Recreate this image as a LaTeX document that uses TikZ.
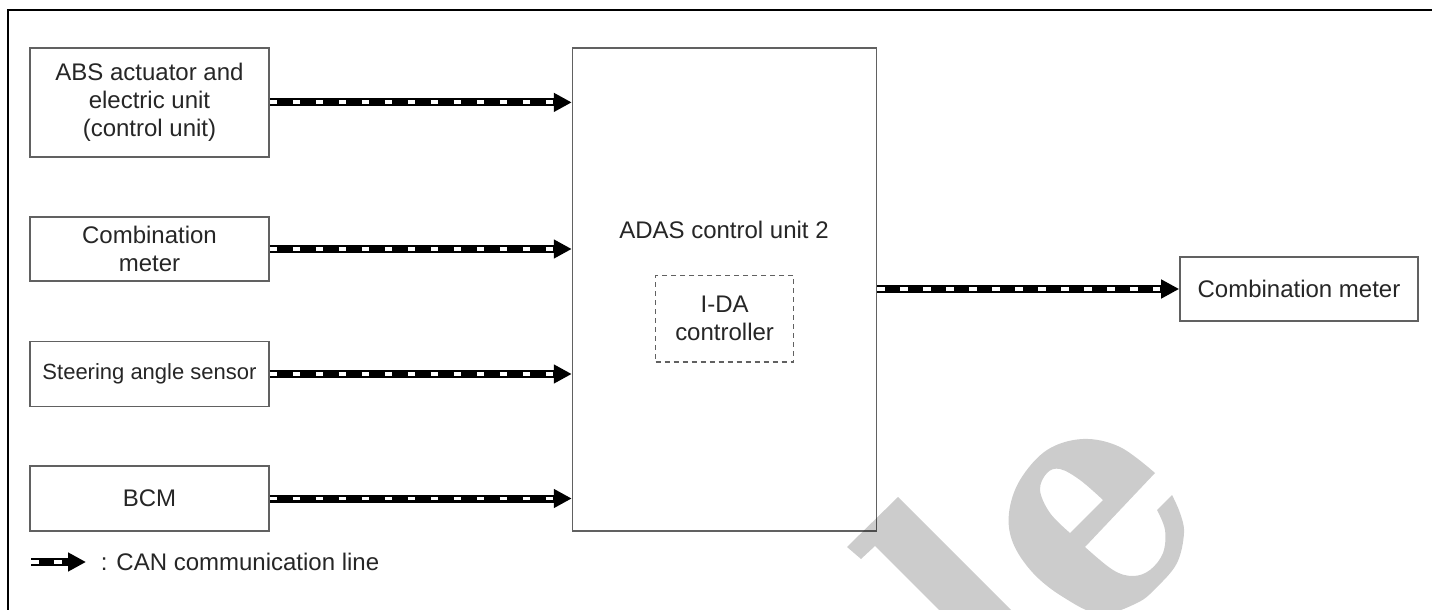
\documentclass[tikz,border=0pt]{standalone}
\usepackage{fontspec}
\setmainfont{Liberation Sans}
\usetikzlibrary{arrows.meta}

\begin{document}
\begin{tikzpicture}[x=0.5pt, y=-0.5pt,
  every node/.style={font=\fontsize{12}{14}\selectfont, text=black!85},
  unit/.style={draw=black!62, line width=0.85pt, inner sep=0pt, align=center, fill=white},
  can/.style={line width=4pt, black, -{Triangle[length=9pt,width=9pt]},
    postaction={draw=white, line width=1.9pt, -, shorten >=9.5pt,
      dash pattern=on 3.8pt off 7.7pt}},
  wm/.style={fill=black, fill opacity=0.2}]

\useasboundingbox (0,0) rectangle (1432,610);

% page frame (top and left edges)
\draw[line width=1.4pt] (1432,10) -- (8,10) -- (8,610);

% sending units
\node[unit, minimum width=119.5pt, minimum height=54.5pt] (abs) at (149.5,102.4)
  {ABS actuator and\\electric unit\\(control unit)};
\node[unit, minimum width=119.5pt, minimum height=32.3pt] (cm1) at (149.5,249)
  {Combination\\meter};
\node[unit, minimum width=119.5pt, minimum height=32.5pt,
  font=\fontsize{11}{13}\selectfont] (sas) at (149.5,374) {Steering angle sensor};
\node[unit, minimum width=119.5pt, minimum height=32.5pt] (bcm) at (149.5,498.5) {BCM};

% control unit
\node[unit, minimum width=152pt, minimum height=241.5pt] (adas) at (724.6,289.5) {};
\node (adastxt) at (724,229.6) {ADAS control unit 2};
\node[unit, dash pattern=on 2.5pt off 2pt, minimum width=69pt, minimum height=43.2pt]
  (ida) at (724.6,318.7) {I-DA\\controller};

% receiving unit
\node[unit, minimum width=119pt, minimum height=32.3pt] (cm2) at (1299,289)
  {Combination meter};

% CAN communication lines
\draw[can] (abs.east) -- (abs.east -| adas.west);
\draw[can] (cm1.east) -- (cm1.east -| adas.west);
\draw[can] (sas.east) -- (sas.east -| adas.west);
\draw[can] (bcm.east) -- (bcm.east -| adas.west);
\draw[can] (adas.east |- cm2.west) -- (cm2.west);

% legend
\coordinate (lg0) at (31,562);
\coordinate (lg1) at (86,562);
\draw[can] (lg0) -- (lg1);
\node[anchor=west, inner sep=0pt] (lgtxt) at (100.5,562) {: CAN communication line};

% watermark letters
\fill[wm] (847,547) -- (898,497) -- (1011,610) -- (939,610) -- (875,546) -- (861,559) -- cycle;
\fill[wm, even odd rule]
  (1155,473) -- plot[smooth, tension=0.6] coordinates {(1155,473) (1120,447) (1083,439)
    (1047,450) (1020,480) (1009,513) (1013,543) (1033,573) (1063,597) (1100,614)
    (1137,603) (1157,587) (1177,563) (1184,533) (1180,513) (1172,495)}
  -- (1157,510) -- plot[smooth, tension=0.6] coordinates {(1157,510) (1165,530) (1163,553)
    (1150,570) (1133,576) (1113,570) (1085,547)} -- cycle
  (1103,500) -- plot[smooth, tension=0.6] coordinates {(1103,500) (1080,480) (1060,469)
    (1047,473) (1040,490) (1050,513) (1070,533)} -- cycle;
\end{tikzpicture}
\end{document}
